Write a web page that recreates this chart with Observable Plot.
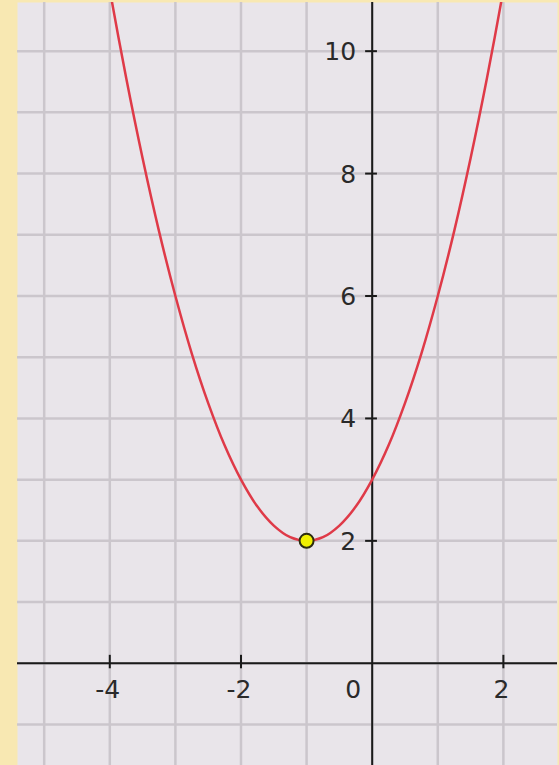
<!DOCTYPE html>
<html>
<head>
<meta charset="utf-8">
<script src="https://cdn.jsdelivr.net/npm/d3@7"></script>
<script src="https://cdn.jsdelivr.net/npm/@observablehq/plot@0.6"></script>
<style>
  html, body { margin: 0; padding: 0; background: #f8e8b2; }
  #chart svg { display: block; background: transparent; }
</style>
</head>
<body>
<div id="chart"></div>
<script>
// Curve samples
const curveX = [-4.2, -4, -3.75, -3.5, -3.25, -3, -2.75, -2.5, -2.25, -2, -1.75, -1.5, -1.25, -1, -0.75, -0.5, -0.25, 0, 0.25, 0.5, 0.75, 1, 1.25, 1.5, 1.75, 2, 2.2];
const curveY = [12.24, 11, 9.56, 8.25, 7.06, 6, 5.06, 4.25, 3.56, 3, 2.56, 2.25, 2.06, 2, 2.06, 2.25, 2.56, 3, 3.56, 4.25, 5.06, 6, 7.06, 8.25, 9.56, 11, 12.24];
// Highlighted point (vertex)
const vertex = [{x: -1, y: 2}];
// Grid lines
const gridX = [-5, -4, -3, -2, -1, 0, 1, 2];
const gridY = [-1, 0, 1, 2, 3, 4, 5, 6, 7, 8, 9, 10];
// Tick labels
const xTicks = [-4, -2, 2];
const yTicks = [2, 4, 6, 8, 10];
const originLabel = ["0"];

const curve = curveX.map((x, i) => ({x, y: curveY[i]}));

const chart = Plot.plot({
  width: 559,
  height: 765,
  marginLeft: 17,
  marginRight: 2,
  marginTop: 2,
  marginBottom: 0,
  style: {background: "transparent", fontFamily: "DejaVu Sans, sans-serif"},
  x: {domain: [-5.407, 2.825], axis: null},
  y: {domain: [-1.67, 10.795], axis: null},
  marks: [
    Plot.frame({fill: "#e9e5ea", stroke: null}),
    Plot.ruleX(gridX, {x: d => d, stroke: "#cbc6cc", strokeWidth: 2.5}),
    Plot.ruleY(gridY, {y: d => d, stroke: "#cbc6cc", strokeWidth: 2.5}),
    Plot.ruleX([0], {stroke: "#1a1a1a", strokeWidth: 2}),
    Plot.ruleY([0], {stroke: "#1a1a1a", strokeWidth: 2}),
    Plot.ruleX(xTicks, {x: d => d, y1: -0.09, y2: 0.13, stroke: "#1a1a1a", strokeWidth: 2}),
    Plot.ruleY(yTicks, {y: d => d, x1: -0.1, x2: 0.08, stroke: "#1a1a1a", strokeWidth: 2}),
    Plot.text(xTicks, {x: d => d, y: 0, text: d => String(d), dy: 27, dx: -2, fontSize: 25, fill: "#2a2a2a", textAnchor: "middle"}),
    Plot.text(yTicks, {x: 0, y: d => d, text: d => String(d), dx: -16, dy: 1, fontSize: 25, fill: "#2a2a2a", textAnchor: "end"}),
    Plot.text(originLabel, {x: 0, y: 0, text: d => d, dx: -19, dy: 27, fontSize: 25, fill: "#2a2a2a", textAnchor: "middle"}),
    Plot.line(curve, {x: "x", y: "y", stroke: "#df3a48", strokeWidth: 2.5, curve: "catmull-rom", clip: true}),
    Plot.dot(vertex, {x: "x", y: "y", r: 7, fill: "#f0f000", stroke: "#2c2c10", strokeWidth: 2})
  ]
});
document.getElementById("chart").appendChild(chart);
</script>
</body>
</html>
